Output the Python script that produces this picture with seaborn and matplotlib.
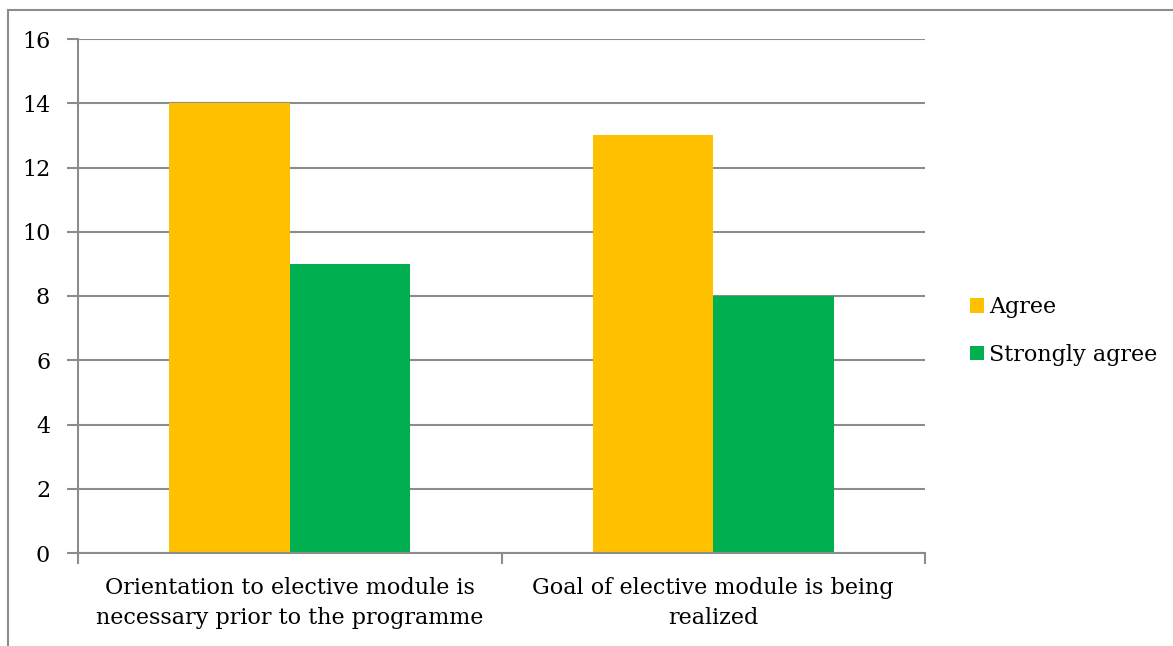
import matplotlib
matplotlib.use("Agg")
import matplotlib.pyplot as plt
import matplotlib.patches as mpatches
import seaborn as sns
import pandas as pd

categories = [
    "Orientation to elective module is\nnecessary prior to the programme",
    "Goal of elective module is being\nrealized",
]
series = ["Agree", "Strongly agree"]
agree = [14, 13]
strongly_agree = [9, 8]
yticks = [0, 2, 4, 6, 8, 10, 12, 14, 16]
colors = ["#FFC000", "#00B050"]

df = pd.DataFrame({
    "category": categories * 2,
    "series": [series[0]] * 2 + [series[1]] * 2,
    "value": agree + strongly_agree,
})

sns.set_theme(style="white")
plt.rcParams["font.family"] = ["DejaVu Serif"]
plt.rcParams["text.color"] = "black"
plt.rcParams["xtick.color"] = "black"
plt.rcParams["ytick.color"] = "black"
FS = 16

fig = plt.figure(figsize=(11.73, 6.46), dpi=100)
ax = fig.add_axes([78 / 1173, 1 - 553 / 646, (925 - 78) / 1173, (553 - 39) / 646])

sns.barplot(data=df, x="category", y="value", hue="series", hue_order=series,
            palette=colors, width=0.57, saturation=1, linewidth=0,
            ax=ax, legend=False)

grid_c = "#8C8C8C"
ax.set_ylim(0, 16)
ax.set_xlim(-0.5, 1.5)
ax.set_yticks(yticks)
ax.set_yticklabels([str(t) for t in yticks], fontsize=FS)
ax.yaxis.grid(True, color=grid_c, linewidth=1.5)
ax.set_axisbelow(True)
ax.set_xlabel("")
ax.set_ylabel("")
for side in ["top", "right"]:
    ax.spines[side].set_visible(False)
for side in ["left", "bottom"]:
    ax.spines[side].set_color(grid_c)
    ax.spines[side].set_linewidth(1.5)

# category ticks sit on the boundaries between groups
ax.set_xticks([-0.5, 0.5, 1.5], minor=True)
ax.tick_params(axis="x", which="minor", length=8, width=1.5, color=grid_c, direction="out", bottom=True)
ax.tick_params(axis="x", which="major", length=0, labelsize=FS, pad=17, labelcolor="black")
ax.tick_params(axis="y", length=8, width=1.5, color=grid_c, direction="out", left=True, pad=12,
               labelcolor="black")
ax.set_xticklabels(categories, fontsize=FS, linespacing=1.5)

handles = [mpatches.Patch(facecolor=c, edgecolor="none") for c in colors]
fig.legend(handles, series, loc="center left", bbox_to_anchor=(950 / 1173, 1 - 331 / 646),
           frameon=False, fontsize=FS, handlelength=0.65, handleheight=0.65,
           handletextpad=0.2, labelspacing=1.15, labelcolor="black")

# chart frame
fig.patches.append(mpatches.Rectangle((8 / 1173, -0.5), 2, 0.5 + 1 - 10 / 646,
                                      transform=fig.transFigure, fill=False,
                                      edgecolor="#8C8C8C", linewidth=1.5))

fig.savefig("out.png", dpi=100, facecolor="white")
